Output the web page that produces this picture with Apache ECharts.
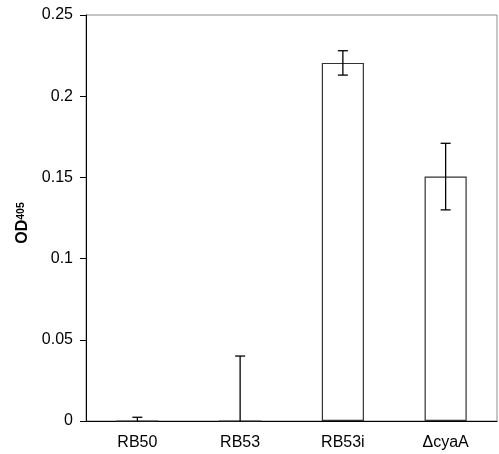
<!DOCTYPE html>
<html>
<head>
<meta charset="utf-8">
<script src="https://cdn.jsdelivr.net/npm/echarts@6/dist/echarts.min.js"></script>
<style>
  html, body { margin: 0; padding: 0; background: #fff; }
  #chart { width: 499px; height: 454px; }
</style>
</head>
<body>
<div id="chart"></div>
<script>
// strains and OD405 means with their error (std dev)
const strains = ['RB50', 'RB53', 'RB53i', '\u0394cyaA']
const means = [0, 0, 0.2205, 0.1505]
const errors = [0.0023, 0.04, 0.0075, 0.0205]

const font = '"Liberation Sans", Arial, sans-serif'
const chart = echarts.init(document.getElementById('chart'))

const errData = strains.map((s, i) => [i, means[i] - errors[i], means[i] + errors[i]])

chart.setOption({
  animation: false,
  grid: {
    left: 86, right: 2, top: 15, bottom: 33,
    show: true, borderColor: '#8c8c8c', borderWidth: 1
  },
  xAxis: {
    type: 'category',
    data: strains,
    axisLine: { lineStyle: { color: '#000', width: 1 } },
    axisTick: { length: 5, lineStyle: { color: '#000' } },
    axisLabel: { color: '#000', fontSize: 16, fontFamily: font, margin: 14 }
  },
  yAxis: {
    type: 'value',
    min: 0,
    max: 0.25,
    interval: 0.05,
    splitLine: { show: false },
    axisLine: { show: true, lineStyle: { color: '#000', width: 1 } },
    axisTick: { show: true, length: 6, lineStyle: { color: '#000' } },
    axisLabel: { color: '#000', fontSize: 16, fontFamily: font, margin: 13 },
    name: '{a|OD}{b|405}',
    nameLocation: 'middle',
    nameRotate: 90,
    nameGap: 55,
    nameMoveOverlap: false,
    nameTextStyle: {
      padding: [0, 10, 0, 0],
      rich: {
        a: { fontSize: 16, fontWeight: 'bold', fontFamily: font, color: '#000', verticalAlign: 'top', lineHeight: 16 },
        b: { fontSize: 10.5, fontWeight: 'bold', fontFamily: font, color: '#000', verticalAlign: 'top', lineHeight: 11, padding: [1, 0, 0, 0] }
      }
    }
  },
  series: [
    {
      type: 'bar',
      data: means,
      barWidth: '41%',
      itemStyle: { color: '#fff', borderColor: '#333', borderWidth: 1.2 }
    },
    {
      // error bars
      type: 'custom',
      data: errData,
      z: 5,
      renderItem (params, api) {
        const x = api.coord([api.value(0), 0])[0]
        const lowV = api.value(1)
        const yHigh = api.coord([api.value(0), api.value(2)])[1]
        const yLow = api.coord([api.value(0), Math.max(lowV, 0)])[1]
        const half = 5
        const style = { stroke: '#000', lineWidth: 1.3 }
        const children = [
          { type: 'line', shape: { x1: x, y1: yLow, x2: x, y2: yHigh }, style },
          { type: 'line', shape: { x1: x - half, y1: yHigh, x2: x + half, y2: yHigh }, style }
        ]
        if (lowV >= 0) {
          children.push({ type: 'line', shape: { x1: x - half, y1: yLow, x2: x + half, y2: yLow }, style })
        }
        return { type: 'group', children }
      }
    }
  ]
})
</script>
</body>
</html>
